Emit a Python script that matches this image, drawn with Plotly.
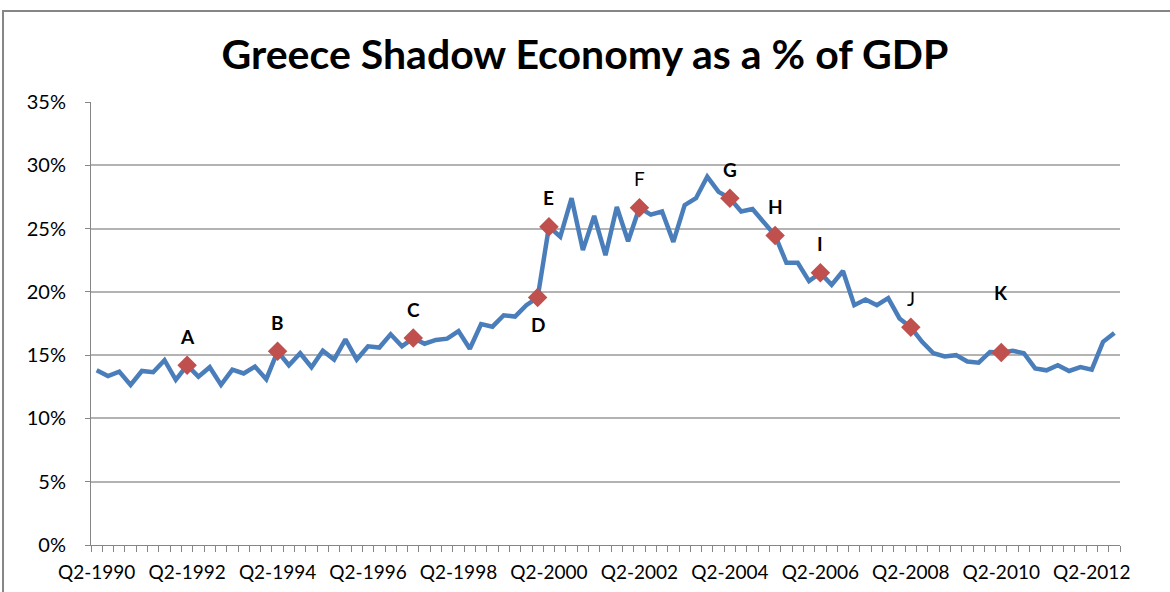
import plotly.graph_objects as go

# ---- data ----
years = list(range(1990, 2013))
quarters = [f"Q{q}-{y}" for y in years for q in (1, 2, 3, 4)][1:]  # Q2-1990 .. Q4-2012

shadow_pct = [
    13.8, 13.35, 13.7, 12.65, 13.75, 13.65, 14.6, 13.05, 14.2, 13.3,
    14.05, 12.65, 13.85, 13.55, 14.1, 13.1, 15.3, 14.2, 15.15, 14.05,
    15.35, 14.65, 16.25, 14.65, 15.7, 15.6, 16.65, 15.7, 16.35, 15.9,
    16.2, 16.3, 16.9, 15.5, 17.45, 17.25, 18.15, 18.05, 18.95, 19.55,
    25.15, 24.35, 27.4, 23.3, 26.0, 22.9, 26.7, 24.0, 26.65, 26.1,
    26.35, 23.95, 26.85, 27.4, 29.1, 27.9, 27.4, 26.35, 26.55, 25.5,
    24.45, 22.3, 22.3, 20.85, 21.5, 20.55, 21.65, 18.95, 19.4, 18.95,
    19.5, 17.9, 17.2, 16.05, 15.15, 14.9, 15.0, 14.5, 14.4, 15.25,
    15.2, 15.35, 15.15, 13.95, 13.8, 14.2, 13.75, 14.05, 13.85, 16.05,
    16.75,
]

marker_letters = ["A", "B", "C", "D", "E", "F", "G", "H", "I", "J", "K"]
marker_quarters = ["Q2-1992", "Q2-1994", "Q2-1997", "Q1-2000", "Q2-2000",
                   "Q2-2002", "Q2-2004", "Q2-2005", "Q2-2006", "Q2-2008", "Q2-2010"]

tick_labels = [f"Q2-{y}" for y in range(1990, 2013, 2)]
y_ticks = [0, 5, 10, 15, 20, 25, 30, 35]
y_tick_text = [f"{v}%" for v in y_ticks]

# ---- style ----
label_shift = {"D": -27, "K": 60}
label_bold = {"F": False, "J": False}

val_by_q = dict(zip(quarters, shadow_pct))
marker_vals = [val_by_q[q] for q in marker_quarters]

fig = go.Figure()
fig.add_trace(go.Scatter(
    x=quarters, y=shadow_pct, mode="lines",
    line=dict(color="#4A7EBB", width=4.5),
    hoverinfo="skip", showlegend=False,
))
fig.add_trace(go.Scatter(
    x=marker_quarters, y=marker_vals, mode="markers",
    marker=dict(symbol="diamond", size=15, color="#C0504D",
                line=dict(color="#C0504D", width=0)),
    showlegend=False,
))

for letter, q, v in zip(marker_letters, marker_quarters, marker_vals):
    shift = label_shift.get(letter, 29)
    txt = letter if not label_bold.get(letter, True) else f"<b>{letter}</b>"
    fig.add_annotation(
        x=q, y=v, text=txt, showarrow=False, yshift=shift,
        font=dict(family="Lato", size=19, color="#000000"),
        xanchor="center", yanchor="middle",
    )

ticktext = [q if q in tick_labels else "" for q in quarters]

fig.update_layout(
    width=1170, height=592,
    margin=dict(l=91, r=50, t=102, b=47, autoexpand=False),
    paper_bgcolor="white", plot_bgcolor="white",
    title=dict(
        text="<b>Greece Shadow Economy as a % of GDP</b>",
        x=585 / 1170, xanchor="center", y=1 - 55 / 592, yanchor="middle",
        font=dict(family="Lato", size=41, color="#000000"),
    ),
    xaxis=dict(
        type="category", categoryorder="array", categoryarray=quarters,
        tickvals=quarters, ticktext=ticktext, tickson="boundaries",
        ticks="outside", ticklen=6, tickcolor="#868686", tickwidth=1,
        showline=True, linecolor="#868686", linewidth=1,
        showgrid=False, tickangle=0, automargin=False,
        tickfont=dict(family="Lato", size=19, color="#000000"),
        ticklabelstandoff=10,
        range=[-0.5, len(quarters) - 0.5],
    ),
    yaxis=dict(
        range=[0, 35], tickvals=y_ticks, ticktext=y_tick_text,
        ticks="outside", ticklen=5, tickcolor="#868686",
        showline=True, linecolor="#868686", linewidth=1,
        showgrid=True, gridcolor="#B3B3B3", gridwidth=1.5,
        zeroline=False, automargin=False,
        tickfont=dict(family="Lato", size=20, color="#000000"),
        ticklabelstandoff=15,
    ),
    shapes=[dict(
        type="rect", xref="paper", yref="paper",
        x0=-0.0855, x1=1.2, y0=-0.4, y1=1.2054,
        line=dict(color="#868686", width=2), layer="below",
    )],
)

fig.write_html(
    "out.html",
    config={"displayModeBar": False},
    post_script="document.body.style.margin='0';document.body.style.overflow='hidden';",
)
